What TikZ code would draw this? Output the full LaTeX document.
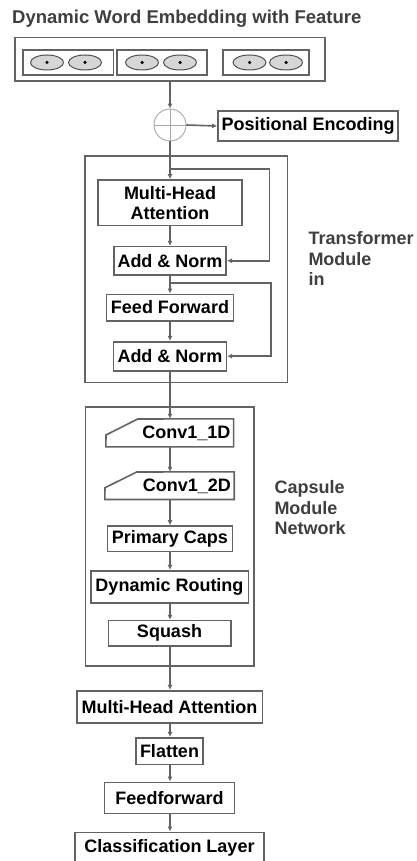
\documentclass[tikz,border=0pt]{standalone}
\usepackage{fontspec}
\setmainfont{Liberation Sans}
\usetikzlibrary{arrows.meta,calc,shapes.geometric}
\definecolor{lc}{HTML}{636363}
\definecolor{tc}{HTML}{3F3F3F}
\definecolor{ef}{HTML}{D6D6D6}
\definecolor{cc}{HTML}{A8A8A8}
\tikzset{
  bx/.style={draw=lc,line width=1.6pt,inner sep=0pt,font=\bfseries\fontsize{18}{20}\selectfont,text=black,align=center},
  nbx/.style={inner sep=0pt,font=\bfseries\fontsize{18}{20}\selectfont,text=black},
  arr/.style={draw=lc,line width=1.6pt,-{Latex[length=5pt,width=5pt]}},
  ln/.style={draw=lc,line width=1.6pt},
  ell/.style={ellipse,draw=lc!80!black,line width=1pt,fill=ef,minimum width=33pt,minimum height=15pt,inner sep=0pt},
  dot/.style={circle,fill=black,inner sep=0pt,minimum size=3.5pt},
  lab/.style={inner sep=0pt,anchor=north west,align=left,text=tc,font=\bfseries\fontsize{18}{20.5}\selectfont},
}
\begin{document}
\begin{tikzpicture}[x=1pt,y=-1pt]
\useasboundingbox[fill=white] (0,0) rectangle (417,861);
% title
\node[inner sep=0pt,anchor=base west,text=tc,font=\bfseries\fontsize{18.5}{20}\selectfont] (title) at (12,24) {Dynamic Word Embedding with Feature};
% embedding
\node[bx,minimum width=310pt,minimum height=43.3pt] (emb) at (170,59.3) {};
\node[bx,minimum width=90.6pt,minimum height=25pt] (b1) at (68,62.5) {};
\node[bx,minimum width=90pt,minimum height=25pt] (b2) at (162,62.5) {};
\node[bx,minimum width=86pt,minimum height=25pt] (b3) at (266,62.5) {};
\foreach \i/\x in {1/47,2/85,3/142,4/180,5/249.5,6/286}{
  \node[ell] (e\i) at (\x,62.5) {};
  \node[dot] (d\i) at (e\i) {};
}
% positional
\node[circle,draw=cc,line width=0.9pt,minimum size=32pt,inner sep=0pt] (circ) at (170,125) {};
\draw[draw=cc,line width=0.9pt] (circ.north) -- (circ.south) (circ.west) -- (circ.east);
\node[bx,minimum width=180pt,minimum height=30pt] (pe) at (308,126) {Positional Encoding};
\draw[arr] (emb.south -| circ.north) -- (circ.north);
\draw[arr] (circ.east) -- (pe.west);
% transformer
\node[bx,minimum width=202.7pt,minimum height=226.3pt] (tm) at (186.3,269.2) {};
\node[bx,minimum width=144.4pt,minimum height=45.7pt] (mha) at (170,202.8) {Multi-Head\\Attention};
\node[bx,minimum width=112.4pt,minimum height=28.3pt] (an1) at (170,260.8) {Add \& Norm};
\node[bx,minimum width=127.3pt,minimum height=26.4pt] (ff) at (170,307.5) {Feed Forward};
\node[bx,minimum width=112.7pt,minimum height=29pt] (an2) at (170,356.2) {Add \& Norm};
\coordinate (s1) at (170,169);
\coordinate (s1r) at (269.3,169);
\coordinate (s2) at (170,282.7);
\coordinate (s2r) at (271,282.7);
\draw[arr] (circ.south) -- (mha.north);
\draw[arr] (mha.south) -- (an1.north);
\draw[arr] (an1.south) -- (ff.north);
\draw[arr] (ff.south) -- (an2.north);
\draw[arr] (s1) -- (s1r) |- (an1.east);
\draw[arr] (s2) -- (s2r) |- (an2.east);
\node[lab] (tlab) at (308.3,231.3) {Transformer\\Module\\in};
% capsule
\node[bx,minimum width=168.3pt,minimum height=259pt] (cm) at (169.8,536.2) {};
\node[inner sep=0pt,minimum width=127.3pt,minimum height=27.7pt] (c1) at (169.7,432.85) {};
\draw[ln] (c1.south west) -- (106,435) -- (137.7,419) -- (c1.north east) -- (c1.south east) -- cycle;
\node[nbx,anchor=east] (c1t) at ($(c1.east)+(-3,0.5)$) {Conv1\_1D};
\node[inner sep=0pt,minimum width=129pt,minimum height=27.3pt] (c2) at (169.5,485.65) {};
\draw[ln] (c2.south west) -- (105,487.7) -- (136.7,472) -- (c2.north east) -- (c2.south east) -- cycle;
\node[nbx,anchor=east] (c2t) at ($(c2.east)+(-3,0.5)$) {Conv1\_2D};
\node[bx,minimum width=125.3pt,minimum height=25.7pt] (pc) at (170,538.8) {Primary Caps};
\node[bx,minimum width=157.6pt,minimum height=32pt] (dr) at (169.5,586.7) {Dynamic Routing};
\node[bx,minimum width=122.4pt,minimum height=25.3pt] (sq) at (169.5,633.3) {Squash};
\draw[arr] (an2.south) -- (an2.south |- c1.north);
\draw[arr] (c1.south -| an2.south) -- (an2.south |- c2.north);
\draw[arr] (c2.south -| an2.south) -- (pc.north -| an2.south);
\draw[arr] (pc.south -| an2.south) -- (dr.north -| an2.south);
\draw[arr] (dr.south -| an2.south) -- (sq.north -| an2.south);
\node[lab] (clab) at (274.3,480.7) {Capsule\\Module\\Network};
% head
\node[bx,minimum width=185.6pt,minimum height=32pt] (mha2) at (169.5,706.7) {Multi-Head Attention};
\node[bx,minimum width=66.7pt,minimum height=26.6pt] (fl) at (169.5,751) {Flatten};
\node[bx,minimum width=130.3pt,minimum height=31pt] (ff2) at (169.5,797.8) {Feedforward};
\node[bx,minimum width=189pt,minimum height=32pt] (cl) at (169.5,848.3) {Classification Layer};
\draw[arr] (sq.south -| an2.south) -- (mha2.north -| an2.south);
\draw[arr] (mha2.south -| an2.south) -- (fl.north -| an2.south);
\draw[arr] (fl.south -| an2.south) -- (ff2.north -| an2.south);
\draw[arr] (ff2.south -| an2.south) -- (cl.north -| an2.south);
\end{tikzpicture}
\end{document}
